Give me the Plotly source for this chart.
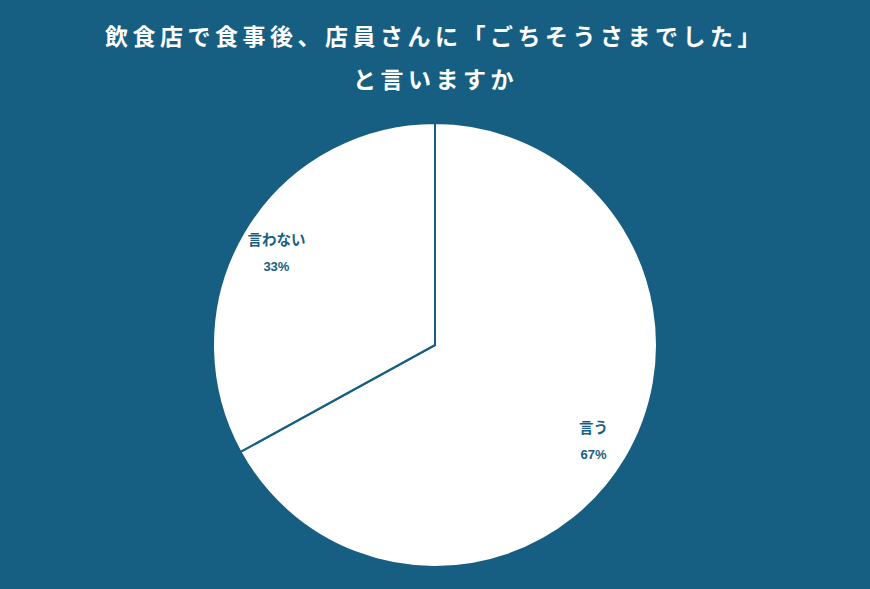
import plotly.graph_objects as go

bg = "#175F82"

labels = ["言う", "言わない"]
values = [67, 33]

title_line1 = "飲食店で食事後、店員さんに「ごちそうさまでした」"
title_line2 = "と言いますか"

# white slices, no text
fig = go.Figure(
    go.Pie(
        labels=labels,
        values=values,
        sort=False,
        direction="clockwise",
        marker=dict(colors=["#ffffff", "#ffffff"], line=dict(color=bg, width=2)),
        textinfo="none",
        hoverinfo="label+percent",
        showlegend=False,
    )
)

# transparent ring on top, only to place the labels further out
fig.add_trace(
    go.Pie(
        labels=labels,
        values=values,
        sort=False,
        direction="clockwise",
        hole=0.66,
        marker=dict(colors=["rgba(0,0,0,0)", "rgba(0,0,0,0)"], line=dict(width=0)),
        texttemplate=(
            "<span style='font-size:14.5px'><b>%{label}</b></span><br> <br>"
            "<span style='font-size:13px;font-family:Liberation Sans'><b>%{percent:.0%}</b></span>"
        ),
        textposition="inside",
        insidetextorientation="horizontal",
        textfont=dict(color=bg, size=10, family="Noto Sans CJK JP"),
        hoverinfo="skip",
        showlegend=False,
    )
)

fig.update_layout(
    width=870,
    height=589,
    paper_bgcolor=bg,
    plot_bgcolor=bg,
    margin=dict(l=100, r=100, t=123, b=22),
    title=dict(
        text="<b><span style='letter-spacing:4.5px'>" + title_line1 + "</span></b>",
        x=0.5,
        xanchor="center",
        y=1 - 37 / 589,
        yanchor="middle",
        font=dict(color="white", size=23, family="Noto Sans CJK JP"),
    ),
    annotations=[
        dict(
            text="<b><span style='letter-spacing:4.5px'>" + title_line2 + "</span></b>",
            x=0.5,
            xref="paper",
            y=(589 - 22 - 78) / 444,
            yref="paper",
            xanchor="center",
            yanchor="middle",
            showarrow=False,
            font=dict(color="white", size=23, family="Noto Sans CJK JP"),
        )
    ],
)

fig.write_html(
    "out.html",
    config={"displayModeBar": False},
    post_script="document.body.style.margin='0';",
)
